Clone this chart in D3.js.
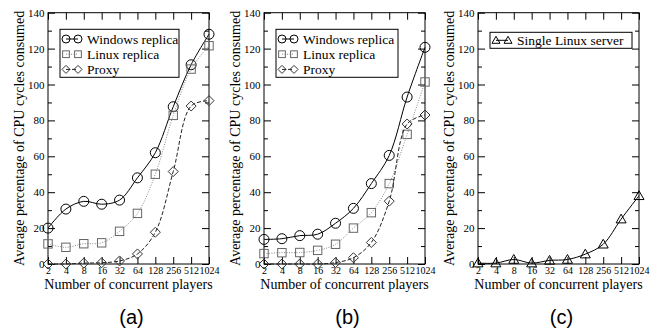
<!DOCTYPE html>
<html>
<head>
<meta charset="utf-8">
<script src="https://cdn.jsdelivr.net/npm/d3@7/dist/d3.min.js"></script>
<style>
  html, body { margin: 0; padding: 0; background: #fff; }
  svg { display: block; }
</style>
</head>
<body>
<div id="chart"></div>
<script>
// categories on the x axis (log2 steps, plotted evenly)
const players = ['2', '4', '8', '16', '32', '64', '128', '256', '512', '1024'];
const yTicks = [0, 20, 40, 60, 80, 100, 120, 140];

// panel (a)
const winA = [20, 30.6, 34.9, 33.3, 35.6, 48, 62, 87.6, 111, 128];
const linA = [11.2, 9.3, 11.3, 11.8, 18.2, 28.2, 50, 82.8, 108.6, 121.6];
const proxyA = [0, 0, 0.5, 0.7, 1.7, 5.6, 17.7, 51.5, 88, 91];

// panel (b)
const winB = [13.7, 14.1, 15.8, 16.6, 22.7, 31, 44.8, 60.5, 93, 120.7];
const linB = [5.8, 6.3, 6.4, 7.6, 11, 20, 28.6, 44.8, 72.2, 101.4];
const proxyB = [0, 0, 0, 0, 0.8, 3.5, 12, 35, 78, 83];

// panel (c)
const singleC = [0.5, 0.5, 2.5, 0.5, 2, 2.5, 5.5, 11, 25, 38];

const panelLabels = ['(a)', '(b)', '(c)'];

const SERIF = "'Liberation Serif', 'Times New Roman', serif";
const SANS = "'Liberation Sans', Arial, sans-serif";

const W = 657, H = 332;
const svg = d3.select('#chart').append('svg')
    .attr('width', W).attr('height', H);

const plotTop = 12.7, plotBottom = 264, plotW = 161;
const lefts = [48, 264, 478];

const styles = {
    win:   {sym: 'circle',   line: '#000', dash: null,  mark: '#000', size: 5},
    lin:   {sym: 'square',   line: '#888', dash: '1,1.5', mark: '#666', size: 4.2},
    proxy: {sym: 'diamond',  line: '#222', dash: '4,2', mark: '#333', size: 5},
    single:{sym: 'triangle', line: '#000', dash: null,  mark: '#000', size: 5}
};

function drawSymbol(g, kind, x, y, st) {
    const r = st.size;
    if (kind === 'circle') {
        g.append('circle').attr('cx', x).attr('cy', y).attr('r', r)
            .attr('fill', 'none').attr('stroke', st.mark).attr('stroke-width', 1);
    } else if (kind === 'square') {
        g.append('rect').attr('x', x - r).attr('y', y - r)
            .attr('width', 2 * r).attr('height', 2 * r)
            .attr('fill', 'none').attr('stroke', st.mark).attr('stroke-width', 1);
    } else if (kind === 'diamond') {
        g.append('path')
            .attr('d', `M${x},${y - r}L${x + r},${y}L${x},${y + r}L${x - r},${y}Z`)
            .attr('fill', 'none').attr('stroke', st.mark).attr('stroke-width', 1);
    } else {
        g.append('path')
            .attr('d', `M${x},${y - r}L${x + r},${y + r * 0.75}L${x - r},${y + r * 0.75}Z`)
            .attr('fill', 'none').attr('stroke', st.mark).attr('stroke-width', 1);
    }
}

function drawPanel(i, series, legendW) {
    const left = lefts[i], right = left + plotW;
    const g = svg.append('g');

    const x = d3.scalePoint().domain(players).range([left, right]);
    const y = d3.scaleLinear().domain([0, 140]).range([plotBottom, plotTop]);

    // frame
    g.append('rect').attr('x', left).attr('y', plotTop)
        .attr('width', plotW).attr('height', plotBottom - plotTop)
        .attr('fill', 'none').attr('stroke', '#000').attr('stroke-width', 1);

    // axes with inward ticks
    const xb = g.append('g').attr('transform', `translate(0,${plotBottom})`)
        .call(d3.axisBottom(x).tickSize(-7).tickPadding(9));
    xb.select('.domain').remove();
    xb.selectAll('text').attr('font-size', 10).attr('font-family', SERIF).attr('dy', '0.1em');
    const xt = g.append('g').attr('transform', `translate(0,${plotTop})`)
        .call(d3.axisTop(x).tickSize(-7).tickFormat(''));
    xt.select('.domain').remove();

    const yl = g.append('g').attr('transform', `translate(${left},0)`)
        .call(d3.axisLeft(y).tickValues(yTicks).tickSize(-7).tickPadding(3.5));
    yl.select('.domain').remove();
    yl.selectAll('text').attr('font-size', 11).attr('font-family', SERIF);
    const yr = g.append('g').attr('transform', `translate(${right},0)`)
        .call(d3.axisRight(y).tickValues(yTicks).tickSize(-7).tickFormat(''));
    yr.select('.domain').remove();
    const minor = d3.range(10, 140, 20);
    g.append('g').attr('transform', `translate(${left},0)`)
        .call(d3.axisLeft(y).tickValues(minor).tickSize(-4).tickFormat(''))
        .select('.domain').remove();
    g.append('g').attr('transform', `translate(${right},0)`)
        .call(d3.axisRight(y).tickValues(minor).tickSize(-4).tickFormat(''))
        .select('.domain').remove();
    g.selectAll('.tick line').attr('stroke', '#000');

    // titles
    g.append('text').attr('x', (left + right) / 2).attr('y', 289)
        .attr('text-anchor', 'middle').attr('font-size', 14).attr('font-family', SERIF)
        .text('Number of concurrent players');
    g.append('text')
        .attr('transform', `translate(${left - 24},${(plotTop + plotBottom) / 2}) rotate(-90)`)
        .attr('text-anchor', 'middle').attr('font-size', 14).attr('font-family', SERIF)
        .text('Average percentage of CPU cycles consumed');

    // series
    const line = d3.line()
        .x((d, j) => x(players[j]))
        .y(d => y(d))
        .curve(d3.curveCatmullRom.alpha(0.5));
    series.forEach(s => {
        const st = styles[s.key];
        g.append('path').datum(s.values).attr('d', line)
            .attr('fill', 'none').attr('stroke', st.line).attr('stroke-width', 1)
            .attr('stroke-dasharray', st.dash);
        s.values.forEach((v, j) => drawSymbol(g, st.sym, x(players[j]), y(v), st));
    });

    // legend
    const lx = left + 12, rowH = 15.2;
    const ly = series.length > 1 ? 29.3 : 32.3;
    const lh = series.length > 1 ? 48 : 16;
    g.append('rect').attr('x', lx).attr('y', ly).attr('width', legendW).attr('height', lh)
        .attr('fill', '#fff').attr('stroke', '#000').attr('stroke-width', 1);
    series.forEach((s, k) => {
        const st = styles[s.key];
        const cy = ly + (series.length > 1 ? 9.7 : 8) + k * rowH;
        const x1 = lx + 6, x2 = lx + 18;
        g.append('line').attr('x1', x1).attr('x2', x2).attr('y1', cy).attr('y2', cy)
            .attr('stroke', st.line).attr('stroke-dasharray', st.dash);
        const sst = Object.assign({}, st, {size: st.size * 0.8});
        drawSymbol(g, st.sym, x1, cy, sst);
        drawSymbol(g, st.sym, x2, cy, sst);
        g.append('text').attr('x', lx + 27).attr('y', cy + 4.7)
            .attr('font-size', 13.5).attr('font-family', SERIF).text(s.name);
    });

    // panel label
    svg.append('text').attr('x', (left + right) / 2 + 3).attr('y', 324)
        .attr('text-anchor', 'middle').attr('font-size', 20)
        .attr('font-family', SANS)
        .text(panelLabels[i]);
}

drawPanel(0, [
    {key: 'win', name: 'Windows replica', values: winA},
    {key: 'lin', name: 'Linux replica', values: linA},
    {key: 'proxy', name: 'Proxy', values: proxyA}
], 119);
drawPanel(1, [
    {key: 'win', name: 'Windows replica', values: winB},
    {key: 'lin', name: 'Linux replica', values: linB},
    {key: 'proxy', name: 'Proxy', values: proxyB}
], 122);
drawPanel(2, [
    {key: 'single', name: 'Single Linux server', values: singleC}
], 142);
</script>
</body>
</html>
